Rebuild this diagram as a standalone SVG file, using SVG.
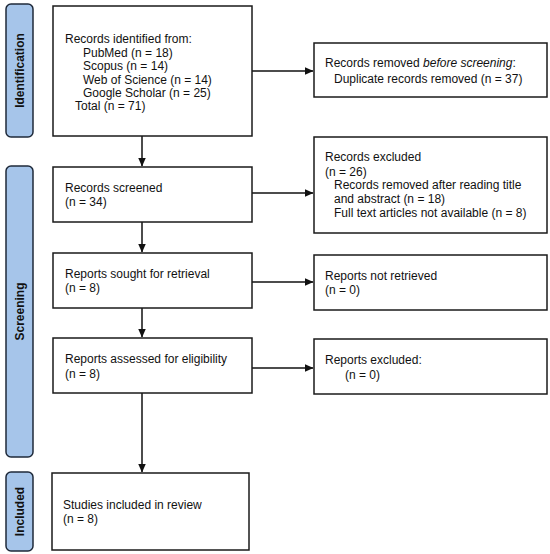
<svg xmlns="http://www.w3.org/2000/svg" width="550" height="554" viewBox="0 0 550 554">
<style>
.box{fill:#fff;stroke:#1a1a1a;stroke-width:1.5}
.lab{fill:#a6c5ea;stroke:#1f2a3a;stroke-width:1.5}
.t{font-family:"Liberation Sans",Arial,sans-serif;font-size:12px;fill:#111}
.lt{font-family:"Liberation Sans",Arial,sans-serif;font-size:12px;font-weight:bold;fill:#111;text-anchor:middle}
.c{stroke:#111;stroke-width:1.5;fill:none;marker-end:url(#ah)}
</style>
<defs>
<marker id="ah" markerWidth="9" markerHeight="8" refX="8.5" refY="4" orient="auto" markerUnits="userSpaceOnUse">
<path d="M0,0 L9,4 L0,8 Z" fill="#111"/>
</marker>
</defs>
<rect width="550" height="554" fill="#fff"/>
<g id="label-identification">
<rect class="lab" x="6" y="4" width="27" height="133" rx="5"/>
<text class="lt" transform="translate(24,70.5) rotate(-90)">Identification</text>
</g>
<g id="label-screening">
<rect class="lab" x="6" y="166" width="27" height="291" rx="5"/>
<text class="lt" transform="translate(24,311.5) rotate(-90)">Screening</text>
</g>
<g id="label-included">
<rect class="lab" x="6" y="472" width="27" height="79" rx="5"/>
<text class="lt" transform="translate(24,511.5) rotate(-90)">Included</text>
</g>
<g id="connectors">
<line class="c" x1="252" y1="71" x2="313" y2="71"/>
<line class="c" x1="142" y1="136" x2="142" y2="166"/>
<line class="c" x1="252" y1="193" x2="313" y2="193"/>
<line class="c" x1="142" y1="222" x2="142" y2="252"/>
<line class="c" x1="252" y1="282" x2="313" y2="282"/>
<line class="c" x1="142" y1="308" x2="142" y2="337"/>
<line class="c" x1="252" y1="368" x2="313" y2="368"/>
<line class="c" x1="142" y1="393" x2="142" y2="472"/>
</g>
<g id="identified">
<rect class="box" x="53" y="6" width="199" height="130"/>
<text class="t" x="65" y="43">Records identified from:</text>
<text class="t" x="83" y="57">PubMed (n = 18)</text>
<text class="t" x="83" y="70">Scopus (n = 14)</text>
<text class="t" x="83" y="84">Web of Science (n = 14)</text>
<text class="t" x="83" y="97">Google Scholar (n = 25)</text>
<text class="t" x="75" y="110">Total (n = 71)</text>
</g>
<g id="removed">
<rect class="box" x="314" y="43" width="233" height="54"/>
<text class="t" x="325" y="67">Records removed <tspan font-style="italic">before screening</tspan>:</text>
<text class="t" x="334" y="83">Duplicate records removed (n = 37)</text>
</g>
<g id="screened">
<rect class="box" x="53" y="167" width="199" height="55"/>
<text class="t" x="65" y="192">Records screened</text>
<text class="t" x="65" y="206">(n = 34)</text>
</g>
<g id="excluded">
<rect class="box" x="314" y="137" width="233" height="96"/>
<text class="t" x="325" y="161">Records excluded</text>
<text class="t" x="325" y="176">(n = 26)</text>
<text class="t" x="334" y="189">Records removed after reading title</text>
<text class="t" x="334" y="203">and abstract (n = 18)</text>
<text class="t" x="334" y="217">Full text articles not available (n = 8)</text>
</g>
<g id="sought">
<rect class="box" x="53" y="253" width="199" height="55"/>
<text class="t" x="65" y="278">Reports sought for retrieval</text>
<text class="t" x="65" y="292">(n = 8)</text>
</g>
<g id="not-retrieved">
<rect class="box" x="314" y="255" width="233" height="55"/>
<text class="t" x="325" y="280">Reports not retrieved</text>
<text class="t" x="325" y="294">(n = 0)</text>
</g>
<g id="assessed">
<rect class="box" x="53" y="338" width="199" height="55"/>
<text class="t" x="65" y="363">Reports assessed for eligibility</text>
<text class="t" x="65" y="378">(n = 8)</text>
</g>
<g id="reports-excluded">
<rect class="box" x="314" y="339" width="233" height="55"/>
<text class="t" x="325" y="364">Reports excluded:</text>
<text class="t" x="345" y="379">(n = 0)</text>
</g>
<g id="included">
<rect class="box" x="52" y="473" width="197" height="77"/>
<text class="t" x="63" y="509">Studies included in review</text>
<text class="t" x="63" y="523">(n = 8)</text>
</g>
</svg>
